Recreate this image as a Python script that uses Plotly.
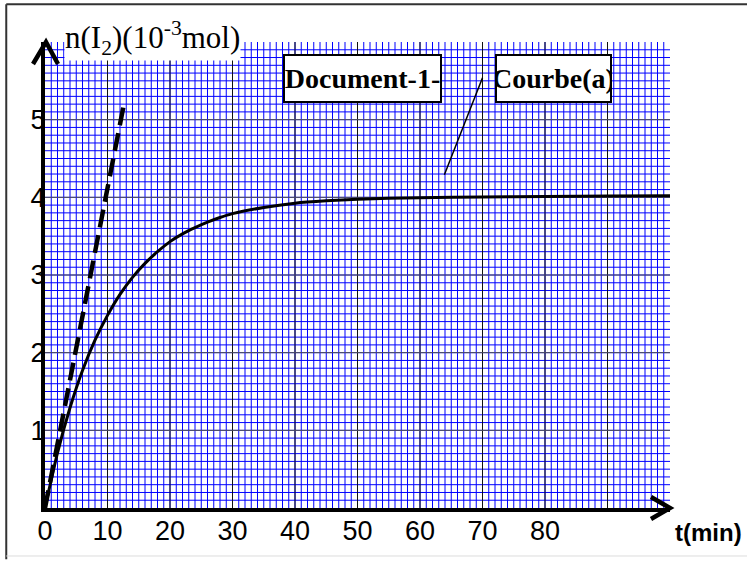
import plotly.graph_objects as go

# ---- data ----
t_curve = [0, 2, 4, 6, 8, 10, 12, 14, 16, 18, 20, 22, 24, 26, 28, 30,
           35, 40, 45, 50, 55, 60, 70, 80, 90, 100]
n_curve = [0, 0.71, 1.29, 1.77, 2.16, 2.48, 2.75, 2.97, 3.15, 3.30, 3.43, 3.53, 3.61,
           3.68, 3.74, 3.79, 3.87, 3.925, 3.955, 3.975, 3.988, 3.995, 4.005, 4.012,
           4.018, 4.02]
t_tangent = [0, 12.7]
n_tangent = [0, 5.23]

x_tickvals = [0, 10, 20, 30, 40, 50, 60, 70, 80, 90, 100]
x_ticktext = ["0", "10", "20", "30", "40", "50", "60", "70", "80", " ", " "]
y_tickvals = [0, 1, 2, 3, 4, 5, 6]
y_ticktext = [" ", "1", "2", "3", "4", "5", " "]

fig = go.Figure()
fig.add_trace(go.Scatter(x=t_curve, y=n_curve, mode="lines",
                         line=dict(color="black", width=3, shape="spline", smoothing=0.7),
                         hoverinfo="skip"))
fig.add_trace(go.Scatter(x=t_tangent, y=n_tangent, mode="lines",
                         line=dict(color="black", width=4.5, dash="18px,8px"),
                         hoverinfo="skip"))

fig.update_layout(
    width=747, height=561,
    margin=dict(l=45, r=77, t=42, b=53, autoexpand=False),
    paper_bgcolor="white", plot_bgcolor="white",
    showlegend=False, hovermode=False,
    xaxis=dict(range=[0, 100], tickmode="array", tickvals=x_tickvals, ticktext=x_ticktext,
               showgrid=True, gridcolor="#111111", gridwidth=1,
               minor=dict(tickmode="linear", tick0=0, dtick=1, showgrid=True,
                          gridcolor="#0000ff", gridwidth=1, ticks=""),
               showline=True, linecolor="black", linewidth=4, ticks="",
               zeroline=False, ticklabelstandoff=-4, automargin=False,
               tickfont=dict(family="Liberation Sans", size=27, color="black")),
    yaxis=dict(range=[0, 6], tickmode="array", tickvals=y_tickvals, ticktext=y_ticktext,
               showgrid=True, gridcolor="#555555", gridwidth=1,
               minor=dict(tickmode="linear", tick0=0, dtick=0.1, showgrid=True,
                          gridcolor="#0000ff", gridwidth=1, ticks=""),
               showline=True, linecolor="black", linewidth=4, ticks="",
               zeroline=False, ticklabelstandoff=-10, automargin=False,
               tickfont=dict(family="Liberation Sans", size=27, color="black")),
)

# arrow heads on the axes
fig.add_shape(type="path", xref="paper", yref="paper", xsizemode="pixel", ysizemode="pixel",
              xanchor=1, yanchor=0, path="M -19 11 L 0 0 L -19 -11",
              line=dict(color="black", width=4.5))
fig.add_shape(type="path", xref="paper", yref="paper", xsizemode="pixel", ysizemode="pixel",
              xanchor=0, yanchor=1, path="M -12 -22 L 1 0 L 13 -22",
              line=dict(color="black", width=4.5))

# pointer line from the label to the curve
fig.add_shape(type="line", xref="x", yref="y", x0=70.0, y0=5.54, x1=63.9, y1=4.29,
              line=dict(color="black", width=1.5))

# outer frame
fig.add_shape(type="line", xref="paper", yref="paper", x0=-0.062, x1=1.2, y0=1.081, y1=1.081,
              line=dict(color="#333333", width=2))
fig.add_shape(type="line", xref="paper", yref="paper", x0=-0.062, x1=-0.062, y0=1.081, y1=-0.11,
              line=dict(color="#333333", width=2))
fig.add_shape(type="line", xref="paper", yref="paper", x0=-0.062, x1=1.2, y0=-0.103, y1=-0.103,
              line=dict(color="#dddddd", width=1))

# axis title (y)
fig.add_annotation(xref="paper", yref="paper", x=(64 - 45) / 625, y=1.0 + 4 / 466,
                   xanchor="left", yanchor="middle", showarrow=False,
                   text="n(I<sub>2</sub>)(10<sup>-3</sup>mol)", bgcolor="white", borderpad=0,
                   font=dict(family="Liberation Serif", size=31, color="black"))
# x title
fig.add_annotation(xref="paper", yref="paper", x=(708 - 45) / 625, y=-24 / 466,
                   xanchor="center", yanchor="middle", showarrow=False,
                   text="<b>t(min)</b>",
                   font=dict(family="Liberation Sans", size=24, color="black"))
# labelled boxes
fig.add_annotation(xref="paper", yref="paper", x=(362.5 - 45) / 625, y=(508 - 78.5) / 466,
                   xanchor="center", yanchor="middle", showarrow=False,
                   text="<b>Document-1-</b>", bgcolor="white", bordercolor="black",
                   borderwidth=2, borderpad=0, width=155, height=45,
                   font=dict(family="Liberation Serif", size=28, color="black"))
fig.add_annotation(xref="paper", yref="paper", x=(553.5 - 45) / 625, y=(508 - 78.5) / 466,
                   xanchor="center", yanchor="middle", showarrow=False,
                   text="<b>Courbe(a)</b>", bgcolor="white", bordercolor="black",
                   borderwidth=2, borderpad=0, width=113, height=45,
                   font=dict(family="Liberation Serif", size=28, color="black"))

post = (
    "document.body.style.margin='0px';"
    "document.querySelectorAll('.gridlayer path, .minor-gridlayer path')"
    ".forEach(function(p){p.style.shapeRendering='geometricPrecision';});"
)
fig.write_html("out.html", config={"displayModeBar": False}, post_script=post)
